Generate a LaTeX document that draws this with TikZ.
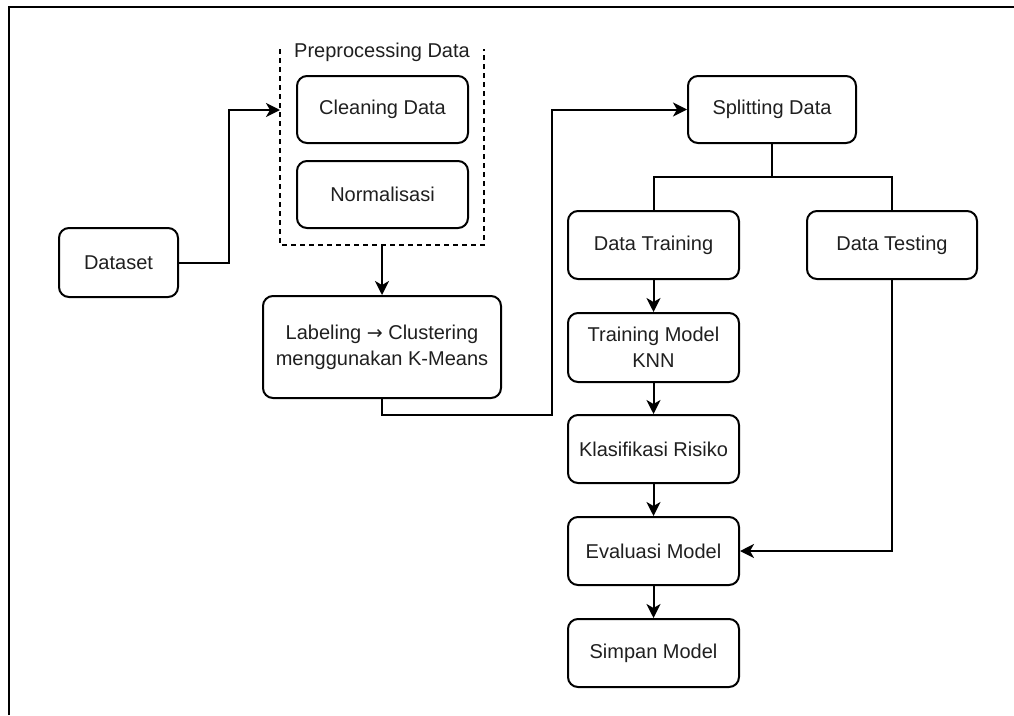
\documentclass[tikz,border=0pt]{standalone}
\usepackage{fontspec}
\setmainfont{Liberation Sans}
\newfontfamily\arrowfont{DejaVu Sans}
\usetikzlibrary{arrows.meta}
\begin{document}
\begin{tikzpicture}[x=1pt,y=-1pt,
  box/.style={draw, line width=2pt, rounded corners=10pt, align=center,
    inner sep=0pt, font=\fontsize{20}{24}\selectfont, text=black!88},
  conn/.style={line width=2pt},
  arr/.style={conn, -{Stealth[length=14pt 0,width=14pt 0,inset=4pt]}},
  frame/.style={line width=2.6pt},
  cont/.style={line width=1.8pt, dash pattern=on 5pt off 4pt},
  title/.style={font=\fontsize{20}{24}\selectfont, text=black!88, inner sep=0pt}]
\useasboundingbox (0,0) rectangle (1014,715);
% outer frame
\draw[frame] (9,715) -- (9,7) -- (1014,7);
% nodes
\node[box, minimum width=119pt, minimum height=69pt] (ds) at (118.5,262.5) {Dataset};
\node[box, minimum width=171pt, minimum height=67pt] (clean) at (382.5,109.5) {Cleaning Data};
\node[box, minimum width=171pt, minimum height=67pt] (norm) at (382.5,194.5) {Normalisasi};
\node[box, minimum width=238pt, minimum height=102pt] (lab) at (382,347) {Labeling {\arrowfont\fontsize{19}{24}\selectfont →} Clustering\\[2pt]menggunakan K-Means};
\node[box, minimum width=168pt, minimum height=67pt] (split) at (772,109.5) {Splitting Data};
\node[box, minimum width=171pt, minimum height=68pt] (train) at (653.5,245) {Data Training};
\node[box, minimum width=170pt, minimum height=68pt] (test) at (892,245) {Data Testing};
\node[box, minimum width=171pt, minimum height=69pt] (knn) at (653.5,347.5) {Training Model\\[2pt]KNN};
\node[box, minimum width=171pt, minimum height=68pt] (klas) at (653.5,449) {Klasifikasi Risiko};
\node[box, minimum width=171pt, minimum height=68pt] (eval) at (653.5,551) {Evaluasi Model};
\node[box, minimum width=171pt, minimum height=68pt] (simp) at (653.5,653) {Simpan Model};
% preprocessing container
\coordinate (pTL) at (280,49);
\coordinate (pBL) at (280,245);
\coordinate (pBR) at (484,245);
\coordinate (pTR) at (484,49);
\coordinate (pIn) at (280,110);
\coordinate (pOut) at (382,245);
\draw[cont] (pTL) -- (pBL) -- (pBR) -- (pTR);
\node[title] (ptitle) at (382,52) {Preprocessing Data};
% connectors
\coordinate (d1) at (229,262.5);
\draw[arr] (ds.east) -- (d1) |- (pIn);
\draw[arr] (pOut) -- (lab.north);
\coordinate (j1) at (552,415);
\draw[arr] (lab.south) |- (j1) |- (split.west);
\coordinate (sj) at (772,177);
\draw[conn] (split.south) -- (sj);
\draw[conn] (sj) -| (train.north);
\draw[conn] (sj) -| (test.north);
\draw[arr] (train) -- (knn);
\draw[arr] (knn) -- (klas);
\draw[arr] (klas) -- (eval);
\draw[arr] (eval) -- (simp);
\draw[arr] (test.south) |- (eval.east);
\end{tikzpicture}
\end{document}
